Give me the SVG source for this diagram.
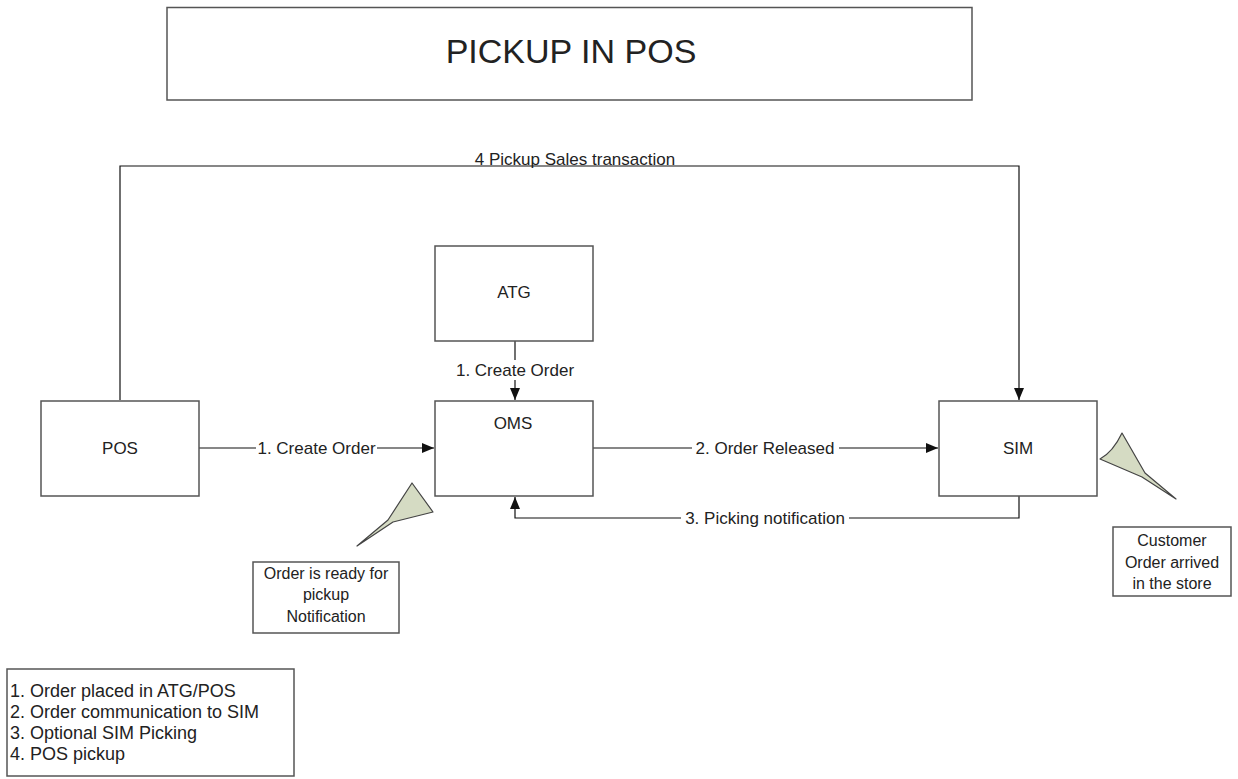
<svg xmlns="http://www.w3.org/2000/svg" width="1238" height="779" viewBox="0 0 1238 779">
<defs>
<style>
.box{fill:#fff;stroke:#555;stroke-width:1.5}
.t{font-family:"Liberation Sans",Arial,sans-serif;fill:#222;font-size:17px}
.c{text-anchor:middle}
.ln{fill:none;stroke:#111;stroke-width:1.2}
.bg{fill:#fff}
.call{fill:#d5dbc3;stroke:#444;stroke-width:1.2;stroke-linejoin:round}
</style>
<marker id="ah" viewBox="0 0 12 10" refX="12" refY="5" markerWidth="12" markerHeight="10" markerUnits="userSpaceOnUse" orient="auto">
<path d="M0,0 L12,5 L0,10 Z" fill="#111"/>
</marker>
</defs>
<rect width="1238" height="779" fill="#fff"/>
<g id="title">
<rect class="box" x="167" y="7.5" width="805" height="92.5"/>
<text class="t c" x="571" y="63" style="font-size:34px" fill="#111">PICKUP IN POS</text>
</g>
<g id="connectors">
<polyline class="ln" points="120,400 120,166 1019,166 1019,400" marker-end="url(#ah)"/>
<rect class="bg" x="474" y="150" width="202" height="15"/>
<text class="t c" x="575" y="165">4 Pickup Sales transaction</text>
<line class="ln" x1="199" y1="448" x2="434" y2="448" marker-end="url(#ah)"/>
<rect class="bg" x="256" y="438" width="121" height="20"/>
<text class="t c" x="316.5" y="454">1. Create Order</text>
<line class="ln" x1="515" y1="341" x2="515" y2="400" marker-end="url(#ah)"/>
<rect class="bg" x="454" y="360" width="122" height="20"/>
<text class="t c" x="515" y="376">1. Create Order</text>
<line class="ln" x1="593" y1="448" x2="938" y2="448" marker-end="url(#ah)"/>
<rect class="bg" x="692" y="438" width="147" height="20"/>
<text class="t c" x="765" y="454">2. Order Released</text>
<polyline class="ln" points="1019,496 1019,518 515,518 515,497" marker-end="url(#ah)"/>
<rect class="bg" x="681" y="508" width="168" height="20"/>
<text class="t c" x="765" y="524">3. Picking notification</text>
</g>
<g id="pos">
<rect class="box" x="41" y="401" width="158" height="95"/>
<text class="t c" x="120" y="454">POS</text>
</g>
<g id="atg">
<rect class="box" x="435" y="246" width="158" height="95"/>
<text class="t c" x="514" y="298">ATG</text>
</g>
<g id="oms">
<rect class="box" x="435" y="401" width="158" height="95"/>
<text class="t c" x="513" y="429">OMS</text>
</g>
<g id="sim">
<rect class="box" x="939" y="401" width="158" height="95"/>
<text class="t c" x="1018" y="454">SIM</text>
</g>
<g id="callout-oms">
<path class="call" d="M412,483 L433,512 L393,522 L357,546 L388,520 Z"/>
<rect class="box" x="253" y="562" width="146" height="71"/>
<text class="t c" x="326" y="579" style="font-size:16px">Order is ready for</text>
<text class="t c" x="326" y="600" style="font-size:16px">pickup</text>
<text class="t c" x="326" y="622" style="font-size:16px">Notification</text>
</g>
<g id="callout-sim">
<path class="call" d="M1100,459 Q1113,452 1122,433 L1145,473 L1176,499 L1142,477 Z"/>
<rect class="box" x="1113" y="527" width="118" height="69"/>
<text class="t c" x="1172" y="546" style="font-size:16px">Customer</text>
<text class="t c" x="1172" y="568" style="font-size:16px">Order arrived</text>
<text class="t c" x="1172" y="589" style="font-size:16px">in the store</text>
</g>
<g id="legend">
<rect class="box" x="7" y="669" width="287" height="107"/>
<text class="t" x="10" y="697" style="font-size:18px">1. Order placed in ATG/POS</text>
<text class="t" x="10" y="718" style="font-size:18px">2. Order communication to SIM</text>
<text class="t" x="10" y="739" style="font-size:18px">3. Optional SIM Picking</text>
<text class="t" x="10" y="760" style="font-size:18px">4. POS pickup</text>
</g>
</svg>
